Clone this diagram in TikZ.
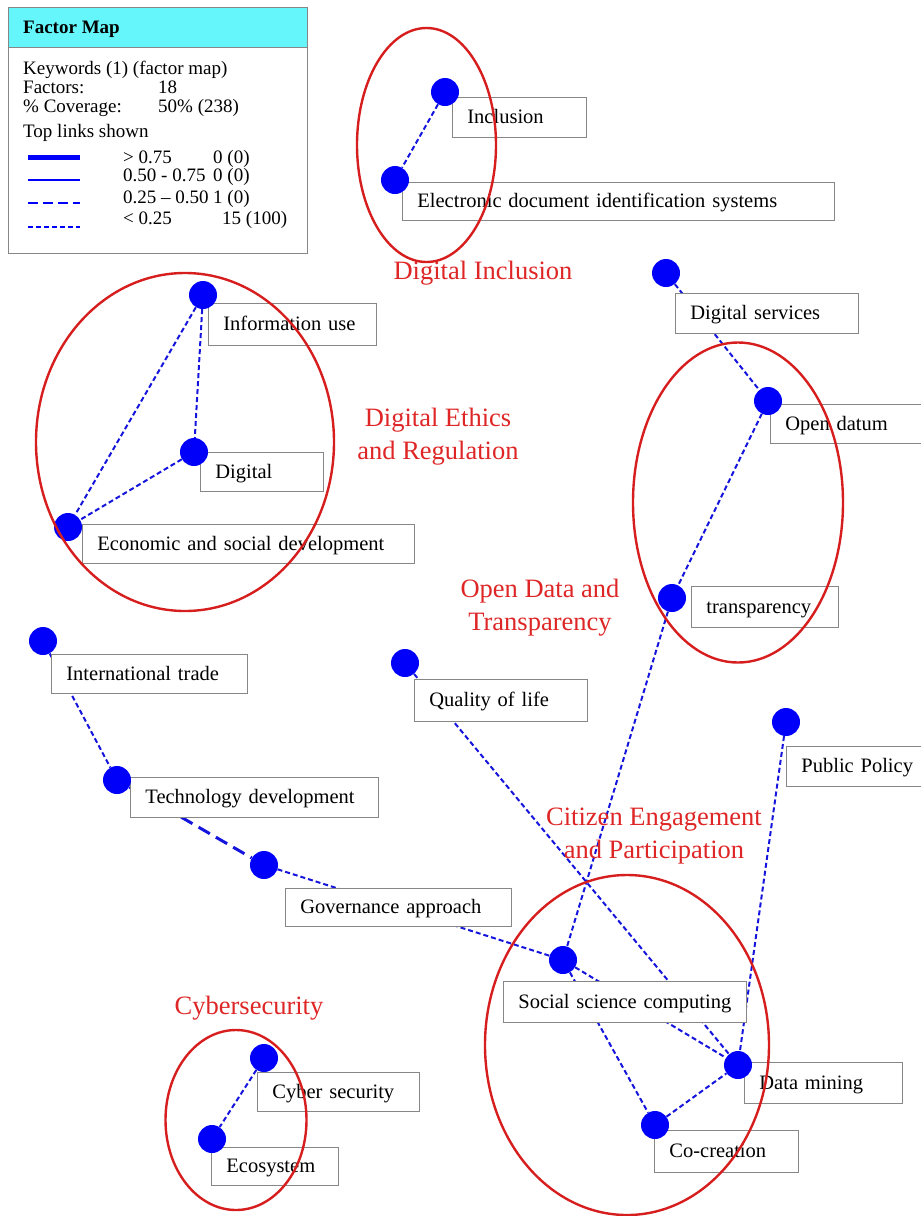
\documentclass[tikz,border=0pt]{standalone}
\usepackage{fontspec}
\setmainfont{Liberation Serif}
\usetikzlibrary{positioning}
\pgfdeclarelayer{background}
\pgfdeclarelayer{foreground}
\pgfsetlayers{background,main,foreground}
\definecolor{dotblue}{RGB}{0,0,250}
\definecolor{linkblue}{RGB}{20,20,220}
\definecolor{boxgray}{RGB}{135,135,135}
\definecolor{hdrcyan}{RGB}{100,246,250}
\definecolor{zonered}{RGB}{215,30,30}
\definecolor{themered}{RGB}{222,38,38}
\newcommand{\lblfont}{\fontsize{20.5}{24}\selectfont}
\newcommand{\legfont}{\fontsize{19}{22}\selectfont}
\newcommand{\clufont}{\fontsize{26.5}{33}\selectfont}

\begin{document}
\begin{tikzpicture}[x=1pt,y=-1pt,semithick]
\tikzstyle{factor}=[circle,fill=dotblue,minimum size=28pt,inner sep=0pt]
\tikzstyle{keybox}=[draw=boxgray,fill=white,line width=0.8pt,inner xsep=15pt,minimum height=40pt,text height=15pt,text depth=2pt,align=left,font=\lblfont]
\tikzstyle{theme}=[text=themered,font=\clufont,align=center,inner sep=0pt]
\tikzstyle{zone}=[draw=zonered,line width=2.4pt]
\tikzstyle{weaklink}=[draw=linkblue,line width=2pt,dash pattern=on 5pt off 3pt]
\tikzstyle{midlink}=[draw=linkblue,line width=3pt,dash pattern=on 13pt off 7pt]
\tikzstyle{legtext}=[anchor=base west,inner sep=0pt,font=\legfont]

\useasboundingbox (0,0) rectangle (921,1216);

% factors
\begin{pgfonlayer}{foreground}
\node[factor] (Incl) at (445,92) {};
\node[factor] (EDIS) at (395,180) {};
\node[factor] (InfoUse) at (203,295) {};
\node[factor] (Digital) at (194,452) {};
\node[factor] (Econ) at (68,527) {};
\node[factor] (DigServ) at (666,273) {};
\node[factor] (OpenDat) at (768,401) {};
\node[factor] (Transp) at (672,598) {};
\node[factor] (IntTrade) at (43,641) {};
\node[factor] (QoL) at (405,663) {};
\node[factor] (PubPol) at (786,722) {};
\node[factor] (TechDev) at (117,780) {};
\node[factor] (Gov) at (264,865) {};
\node[factor] (SSC) at (563,960) {};
\node[factor] (DataMin) at (738,1065) {};
\node[factor] (CoCre) at (655,1125) {};
\node[factor] (CyberSec) at (264,1058) {};
\node[factor] (Ecosys) at (212,1139) {};
\end{pgfonlayer}

% keyword boxes
\node[keybox,text width=104pt,below right=5pt and 7pt of Incl.center] (InclL) {Inclusion};
\node[keybox,text width=402pt,minimum height=38pt,below right=2pt and 7pt of EDIS.center] (EDISL) {Electronic document identification systems};
\node[keybox,text width=138pt,minimum height=42pt,below right=8pt and 5pt of InfoUse.center] (InfoUseL) {Information use};
\node[keybox,text width=93pt,minimum height=39pt,below right=0pt and 6pt of Digital.center] (DigitalL) {Digital};
\node[keybox,text width=302pt,minimum height=39pt,below right=-3pt and 14pt of Econ.center] (EconL) {Economic and social development};
\node[keybox,text width=153pt,below right=20pt and 9pt of DigServ.center] (DigServL) {Digital services};
\node[keybox,text width=140pt,minimum height=39pt,below right=3pt and 2pt of OpenDat.center] (OpenDatL) {Open datum};
\node[keybox,text width=117pt,minimum height=41pt,below right=-12pt and 19pt of Transp.center] (TranspL) {transparency};
\node[keybox,text width=166pt,minimum height=39pt,below right=13pt and 8pt of IntTrade.center] (IntTradeL) {International trade};
\node[keybox,text width=143pt,minimum height=42pt,below right=16pt and 9pt of QoL.center] (QoLL) {Quality of life};
\node[keybox,text width=125pt,below right=24pt and 0pt of PubPol.center] (PubPolL) {Public Policy};
\node[keybox,text width=218pt,below right=-3pt and 13pt of TechDev.center] (TechDevL) {Technology development};
\node[keybox,text width=196pt,minimum height=38pt,below right=23pt and 21pt of Gov.center] (GovL) {Governance approach};
\node[keybox,text width=213pt,minimum height=41pt,below right=21pt and -60pt of SSC.center] (SSCL) {Social science computing};
\node[keybox,text width=128pt,minimum height=41pt,below right=-3pt and 6pt of DataMin.center] (DataMinL) {Data mining};
\node[keybox,text width=114pt,minimum height=42pt,below right=5pt and -1pt of CoCre.center] (CoCreL) {Co-creation};
\node[keybox,text width=132pt,minimum height=39pt,below right=14pt and -7pt of CyberSec.center] (CyberSecL) {Cyber security};
\node[keybox,text width=97pt,minimum height=38pt,below right=8pt and -1pt of Ecosys.center] (EcosysL) {Ecosystem};

% links
\begin{pgfonlayer}{background}
\path[weaklink] (Incl) edge (EDIS)
          (InfoUse) edge (Digital)
          (InfoUse) edge (Econ)
          (Digital) edge (Econ)
          (DigServ) edge (OpenDat)
          (OpenDat) edge (Transp)
          (Transp) edge (SSC)
          (QoL) edge (DataMin)
          (PubPol) edge (DataMin)
          (IntTrade) edge (TechDev)
          (Gov) edge (SSC)
          (SSC) edge (DataMin)
          (SSC) edge (CoCre)
          (CoCre) edge (DataMin)
          (CyberSec) edge (Ecosys);
\path[midlink] (TechDev) edge (Gov);
\end{pgfonlayer}

% clusters
\begin{pgfonlayer}{foreground}
\draw[zone] (426.5,145) ellipse [x radius=69.5pt, y radius=117pt];
\draw[zone] (185,442) ellipse [x radius=149pt, y radius=169pt];
\draw[zone] (738,502.5) ellipse [x radius=105pt, y radius=160pt];
\draw[zone] (627,1045) ellipse [x radius=142pt, y radius=170pt];
\draw[zone] (236,1120) ellipse [x radius=70.5pt, y radius=90pt];
\end{pgfonlayer}

\node[theme] (ThInc) at (483,273) {Digital Inclusion};
\node[theme] (ThEth) at (438,437) {Digital Ethics\\and Regulation};
\node[theme] (ThOpen) at (540,608) {Open Data and\\Transparency};
\node[theme] (ThCit) at (654,836) {Citizen Engagement\\and Participation};
\node[theme] (ThCyb) at (249,1008) {Cybersecurity};

% legend
\draw[draw=boxgray,fill=white,line width=0.8pt] (8,7) rectangle (307,253);
\draw[draw=boxgray,fill=hdrcyan,line width=0.8pt] (8,7) rectangle (307,47);
\node[legtext,font=\legfont\bfseries] (LegHead) at (23,33) {Factor Map};
\node[legtext] (LegKw) at (23,74) {Keywords (1) (factor map)};
\node[legtext] (LegFac) at (23,93) {Factors:};
\node[legtext] (LegFacN) at (158,93) {18};
\node[legtext] (LegCov) at (23,112) {\% Coverage:};
\node[legtext] (LegCovN) at (158,112) {50\% (238)};
\node[legtext] (LegTop) at (23,137) {Top links shown};
\node[legtext] (LegA) at (123,163) {> 0.75};
\node[legtext] (LegB) at (123,181) {0.50 - 0.75};
\node[legtext] (LegC) at (123,203) {0.25 -- 0.50};
\node[legtext] (LegD) at (123,224) {< 0.25};
\node[legtext] (LegAN) at (213,163) {0 (0)};
\node[legtext] (LegBN) at (213,181) {0 (0)};
\node[legtext] (LegCN) at (213,203) {1 (0)};
\node[legtext] (LegDN) at (222,224) {15 (100)};
\draw[dotblue,line width=5pt] (28,157) -- (80,157);
\draw[dotblue,line width=2.5pt] (28,180) -- (80,180);
\draw[dotblue,line width=2.5pt,dash pattern=on 10pt off 5pt] (28,203) -- (80,203);
\draw[dotblue,line width=2pt,dash pattern=on 5pt off 3pt] (28,227) -- (80,227);
\end{tikzpicture}
\end{document}
